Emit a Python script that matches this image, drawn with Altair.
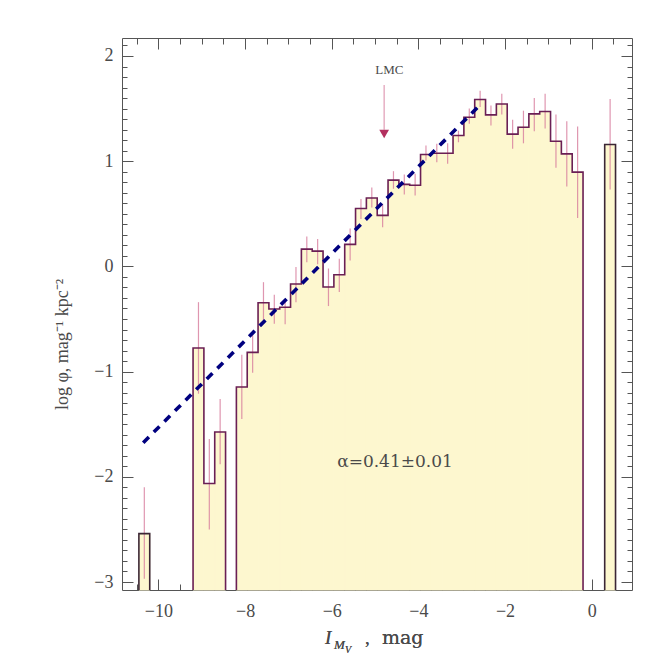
import altair as alt
import pandas as pd

# ---------------- data ----------------
BIN_START = -10.45
BIN_WIDTH = 0.25
log_phi = [-2.54, None, None, None, None, -0.776, -2.064, -1.574, None, -1.146,
           -0.817, -0.345, -0.405, -0.388, -0.168, 0.164, 0.145, -0.196, -0.08, 0.209,
           0.55, 0.65, 0.485, 0.82, 0.78, 0.772, 1.064, 1.076, 1.076, 1.244,
           1.418, 1.586, 1.44, 1.543, 1.257, 1.323, 1.45, 1.472, 1.19, 1.07,
           0.896, None, None, 1.159]
err_hi = [-2.10, None, None, None, None, -0.34, -1.64, -1.26, None, -0.84,
          -0.61, -0.15, -0.27, -0.31, -0.006, 0.285, 0.26, -0.02, 0.073, 0.36,
          0.64, 0.75, 0.595, 0.905, 0.874, 0.88, 1.15, 1.165, 1.17, 1.29,
          1.50, 1.67, 1.53, 1.64, 1.393, 1.48, 1.60, 1.64, 1.443, 1.38,
          1.33, None, None, 1.59]
err_lo = [-2.97, None, None, None, None, -1.21, -2.50, -1.88, None, -1.45,
          -1.01, -0.54, -0.545, -0.55, -0.34, 0.04, 0.02, -0.377, -0.244, 0.057,
          0.45, 0.56, 0.373, 0.738, 0.684, 0.674, 1.007, 0.99, 0.975, 1.18,
          1.355, 1.515, 1.34, 1.443, 1.118, 1.17, 1.285, 1.31, 0.937, 0.76,
          0.46, None, None, 0.73]

fit_x = [-10.35, -2.58]
fit_y = [-1.676, 1.534]

lmc_x = -4.79
lmc_top = 1.724
lmc_tip = 1.30
lmc_marker = 1.258
lmc_label_y = 1.868
alpha_x = -4.54
alpha_y = -1.86
alpha_text = "α=0.41±0.01"

X_DOMAIN = [-10.84, 0.93]
Y_DOMAIN = [-3.076, 2.171]
x_major = [-10, -8, -6, -4, -2, 0]
x_minor = [-10.5 + 0.5 * i for i in range(23)]
y_major = [-3, -2, -1, 0, 1, 2]
y_minor = [round(-3.0 + 0.1 * i, 1) for i in range(52)]

# ---------------- derived tables ----------------
rows = []
for k, v in enumerate(log_phi):
    if v is None:
        continue
    x0 = BIN_START + k * BIN_WIDTH
    rows.append({"k": k, "x0": x0, "x1": x0 + BIN_WIDTH, "xc": x0 + BIN_WIDTH / 2,
                 "v": v, "hi": err_hi[k], "lo": err_lo[k], "floor": Y_DOMAIN[0]})
bins = pd.DataFrame(rows)

# outline path of each contiguous run of bins
path = []
group = 0
order = 0
prev_k = None
for r in rows:
    k, v = r["k"], r["v"]
    if prev_k is None or k != prev_k + 1:
        if prev_k is not None:
            path.append({"g": group, "o": order, "x": BIN_START + (prev_k + 1) * BIN_WIDTH, "y": Y_DOMAIN[0]}); order += 1
            group += 1
        path.append({"g": group, "o": order, "x": r["x0"], "y": Y_DOMAIN[0]}); order += 1
    path.append({"g": group, "o": order, "x": r["x0"], "y": v}); order += 1
    path.append({"g": group, "o": order, "x": r["x1"], "y": v}); order += 1
    prev_k = k
path.append({"g": group, "o": order, "x": BIN_START + (prev_k + 1) * BIN_WIDTH, "y": Y_DOMAIN[0]})
outline = pd.DataFrame(path)
last_group = group
outline["c"] = ["#3b2635" if g in (0, last_group) else "#6a1f55" for g in outline["g"]]

fit = pd.DataFrame({"x": fit_x, "y": fit_y})
lmc_rule = pd.DataFrame({"x": [lmc_x], "y": [lmc_top], "y2": [lmc_tip]})
lmc_pt = pd.DataFrame({"x": [lmc_x], "y": [lmc_marker]})
lmc_lab = pd.DataFrame({"x": [lmc_x + 0.12], "y": [lmc_label_y], "t": ["LMC"]})
alpha_lab = pd.DataFrame({"x": [alpha_x], "y": [alpha_y], "t": [alpha_text]})

# ---------------- styling ----------------
SERIF = "Liberation Serif"
SERIF2 = "DejaVu Serif"
TXT = "#4a4a4a"
TICK = "#555555"
FILL = "#fdf7cf"
xs = alt.Scale(domain=X_DOMAIN, nice=False, zero=False)
ys = alt.Scale(domain=Y_DOMAIN, nice=False, zero=False)
W, H = 510, 552


def tick_axis(orient, values, size):
    return alt.Axis(orient=orient, values=values, tickSize=size, offset=-size,
                    labels=False, domain=False, grid=False, title=None,
                    tickColor=TICK, tickWidth=1)


x_label_axis = alt.Axis(orient="bottom", values=x_major, tickSize=0, domain=False,
                        grid=False, title=None, labelFont=SERIF, labelFontSize=18,
                        labelColor=TXT, labelPadding=12, format="d")
y_label_axis = alt.Axis(orient="left", values=y_major, tickSize=0, domain=False,
                        grid=False, title="log φ,  mag⁻¹  kpc⁻²", labelFont=SERIF,
                        labelFontSize=18, labelColor=TXT, labelPadding=9, format="d",
                        titleFont=SERIF, titleFontSize=18, titleFontWeight="normal",
                        titleColor=TXT, titleX=-60, titleY=H / 2 + 30, titleAngle=270,
                        titleAlign="center", titleBaseline="middle")

fill = alt.Chart(bins).mark_rect(color=FILL, stroke=FILL, strokeWidth=1).encode(
    x=alt.X("x0:Q", scale=xs, axis=x_label_axis),
    x2="x1:Q",
    y=alt.Y("v:Q", scale=ys, axis=y_label_axis),
    y2="floor:Q",
)

errs = alt.Chart(bins).mark_rule(color="#d77c9c", opacity=0.8, strokeWidth=1.2).encode(
    x=alt.X("xc:Q", scale=xs, axis=None),
    y=alt.Y("hi:Q", scale=ys, axis=None),
    y2="lo:Q",
)

line = alt.Chart(outline).mark_line(strokeWidth=1.6, interpolate="linear").encode(
    x=alt.X("x:Q", scale=xs, axis=None),
    y=alt.Y("y:Q", scale=ys, axis=None),
    color=alt.Color("c:N", scale=None),
    detail="g:N",
    order="o:Q",
)

fitline = alt.Chart(fit).mark_line(color="#00007f", strokeWidth=3.6,
                                   strokeDash=[8, 7]).encode(
    x=alt.X("x:Q", scale=xs, axis=None),
    y=alt.Y("y:Q", scale=ys, axis=None),
)

lmc1 = alt.Chart(lmc_rule).mark_rule(color="#e3a3ba", strokeWidth=1.3).encode(
    x=alt.X("x:Q", scale=xs, axis=None),
    y=alt.Y("y:Q", scale=ys, axis=None),
    y2="y2:Q",
)
lmc2 = alt.Chart(lmc_pt).mark_point(shape="triangle-down", filled=True, color="#b3305f",
                                    size=95, opacity=1).encode(
    x=alt.X("x:Q", scale=xs, axis=None),
    y=alt.Y("y:Q", scale=ys, axis=None),
)
lmc3 = alt.Chart(lmc_lab).mark_text(font=SERIF, fontSize=13, color=TXT).encode(
    x=alt.X("x:Q", scale=xs, axis=None),
    y=alt.Y("y:Q", scale=ys, axis=None),
    text="t:N",
)
alab = alt.Chart(alpha_lab).mark_text(font=SERIF2, fontSize=17, color=TXT).encode(
    x=alt.X("x:Q", scale=xs, axis=None),
    y=alt.Y("y:Q", scale=ys, axis=None),
    text="t:N",
)

# x-axis title with nested subscripts
xt_I = alt.Chart(fit).mark_text(text="I", font=SERIF, fontSize=19, fontStyle="italic",
                                color=TXT, align="left", baseline="alphabetic").encode(
    x=alt.value(203), y=alt.value(606))
xt_M = alt.Chart(fit).mark_text(text="M", font=SERIF, fontSize=13, fontStyle="italic",
                                color=TXT, align="left", baseline="alphabetic").encode(
    x=alt.value(212), y=alt.value(611))
xt_V = alt.Chart(fit).mark_text(text="V", font=SERIF, fontSize=10, fontStyle="italic",
                                color=TXT, align="left", baseline="alphabetic").encode(
    x=alt.value(223), y=alt.value(615))
xt_comma = alt.Chart(fit).mark_text(text=",", font=SERIF, fontSize=19, color=TXT,
                                    align="left", baseline="alphabetic").encode(
    x=alt.value(243), y=alt.value(606))
xt_mag = alt.Chart(fit).mark_text(text="mag", font=SERIF2, fontSize=19, color=TXT,
                                  align="left", baseline="alphabetic").encode(
    x=alt.value(260), y=alt.value(606))

# inward tick marks on all four sides (axes only)
def tick_layer(xo, xv, xsz, yo, yv, ysz):
    return alt.Chart(fit).mark_point(opacity=0).encode(
        x=alt.X("x:Q", scale=xs, axis=tick_axis(xo, xv, xsz)),
        y=alt.Y("y:Q", scale=ys, axis=tick_axis(yo, yv, ysz)),
    )

t1 = tick_layer("bottom", x_major, 11, "left", y_major, 11)
t2 = tick_layer("bottom", x_minor, 6, "left", y_minor, 5)
t3 = tick_layer("top", x_major, 11, "right", y_major, 11)
t4 = tick_layer("top", x_minor, 6, "right", y_minor, 5)

chart = alt.layer(
    fill, errs, line, fitline, lmc1, lmc2, lmc3, alab,
    xt_I, xt_M, xt_V, xt_comma, xt_mag, t1, t2, t3, t4,
).resolve_axis(x="independent", y="independent").properties(
    width=W, height=H,
    autosize=alt.AutoSizeParams(type="none"),
    padding={"left": 114, "top": 30, "right": 20, "bottom": 70},
    background="white",
).configure_view(stroke="#555555", strokeWidth=1)

chart.save("out.html", embed_options={"renderer": "svg", "actions": False})
